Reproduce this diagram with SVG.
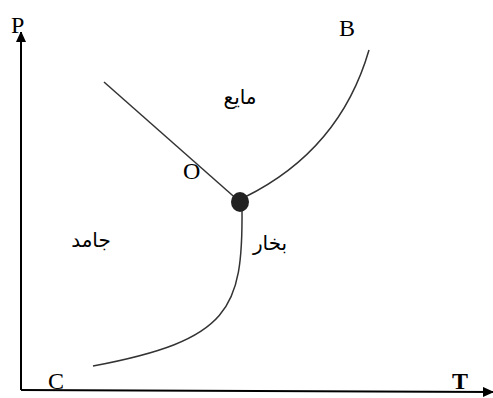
<svg xmlns="http://www.w3.org/2000/svg" width="493" height="398" viewBox="0 0 493 398">
<style>
.lat{font-family:"Liberation Serif",serif;font-size:24px;fill:#000}
.ar{font-family:"DejaVu Sans","Noto Sans",sans-serif;font-size:20px;fill:#000}
.ln{fill:none;stroke:#333;stroke-width:1.5}
.ax{fill:none;stroke:#000;stroke-width:2}
</style>
<defs>
<marker id="ah" markerWidth="10" markerHeight="12" refX="10" refY="5" orient="auto" markerUnits="userSpaceOnUse">
<path d="M0,0 L11,5 L0,10 z" fill="#000"/>
</marker>
</defs>
<rect width="493" height="398" fill="#fff"/>
<g id="connectors">
<line class="ax" x1="21" y1="390" x2="21" y2="32" marker-end="url(#ah)"/>
<line class="ax" x1="21" y1="390" x2="493" y2="392" marker-end="url(#ah)"/>
<path class="ln" d="M104,82 L240,202"/>
<path class="ln" d="M245,197 Q340,150 369,50"/>
<path class="ln" d="M242,208 C243,310 230,340 93,366"/>
</g>
<g id="O-point">
<ellipse cx="240" cy="202" rx="9" ry="10" fill="#222"/>
</g>
<g id="labels">
<text class="lat" x="11" y="33">P</text>
<text class="lat" x="339" y="36">B</text>
<text class="lat" x="183" y="179">O</text>
<text class="lat" x="48" y="389" font-size="22">C</text>
<text class="lat" x="452" y="389" font-weight="bold">T</text>
<text class="ar" x="240" y="104" text-anchor="middle" direction="rtl">مايع</text>
<text class="ar" x="270" y="250" text-anchor="middle" direction="rtl">بخار</text>
<text class="ar" x="91" y="247" text-anchor="middle" direction="rtl">جامد</text>
</g>
</svg>
